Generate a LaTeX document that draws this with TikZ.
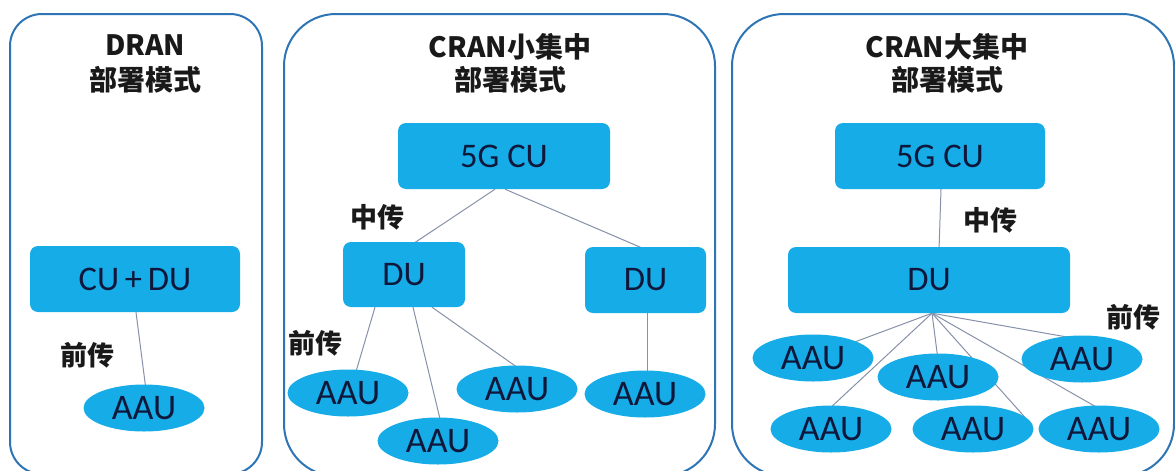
\documentclass[tikz,border=0pt]{standalone}
\usepackage{fontspec}
\usetikzlibrary{shapes.geometric}
\newfontfamily\cjk{Noto Sans CJK SC}
\newfontfamily\boxfont{Carlito}
\definecolor{boxblue}{RGB}{22,172,232}
\definecolor{panelblue}{RGB}{46,117,182}
\definecolor{boxtext}{RGB}{15,24,58}
\definecolor{linkgray}{RGB}{135,145,170}
\definecolor{labeltext}{RGB}{25,25,25}
\pgfdeclarelayer{bg}
\pgfsetlayers{bg,main}
\tikzset{
  panel/.style={draw=panelblue, line width=2pt},
  unitbox/.style={rectangle, rounded corners=8pt, fill=boxblue, draw=none,
    text=boxtext, font=\boxfont\fontsize{34.5}{37}\selectfont, inner sep=0pt},
  aau/.style={ellipse, fill=boxblue, draw=none, minimum width=121pt,
    minimum height=47pt, inner sep=0pt, text=boxtext,
    font=\boxfont\fontsize{36}{39}\selectfont},
  title/.style={text=labeltext, font=\cjk\bfseries\fontsize{28}{30}\selectfont, inner sep=0pt},
  linklabel/.style={text=labeltext, font=\cjk\bfseries\fontsize{27}{29}\selectfont, inner sep=0pt},
  link/.style={draw=linkgray, line width=1pt}
}
\begin{document}
\begin{tikzpicture}[x=1pt,y=-1pt]
\useasboundingbox (0,0) rectangle (1175,471);
\begin{pgfonlayer}{bg}
  \fill[white] (0,0) rectangle (1175,471);
\end{pgfonlayer}
\clip (0,0) rectangle (1175,471);
% panels
\draw[panel, rounded corners=32pt] (10,14) rectangle (262,474);
\draw[panel, rounded corners=52pt] (284,14) rectangle (715,476);
\draw[panel, rounded corners=52pt] (732,14) rectangle (1174,476);

% ---------- Panel 1: DRAN ----------
\node[title] (t1a) at (145,45) {DRAN};
\node[title] (t1b) at (145,80) {部署模式};
\node[unitbox, minimum width=210pt, minimum height=66pt] (cd) at (135,279) {CU\,+\,DU};
\node[aau] (p1a) at (144,408) {AAU};
\node[linklabel] (l1) at (87,355) {前传};

% ---------- Panel 2: CRAN small ----------
\node[title] (t2a) at (510,47) {CRAN小集中};
\node[title] (t2b) at (510,80) {部署模式};
\node[unitbox, minimum width=212pt, minimum height=66pt] (cu2) at (504,156) {5G CU};
\node[unitbox, minimum width=122pt, minimum height=65pt] (du2a) at (404,274.5) {DU};
\node[unitbox, minimum width=121pt, minimum height=66pt] (du2b) at (645.5,280) {DU};
\node[aau] (a1) at (348,393) {AAU};
\node[aau] (a2) at (438,441) {AAU};
\node[aau] (a3) at (517,389) {AAU};
\node[aau] (a4) at (645,394) {AAU};
\node[linklabel] (l2a) at (377,217) {中传};
\node[linklabel] (l2b) at (315,343) {前传};

% ---------- Panel 3: CRAN large ----------
\node[title] (t3a) at (947,47) {CRAN大集中};
\node[title] (t3b) at (947,80) {部署模式};
\node[unitbox, minimum width=210pt, minimum height=66pt] (cu3) at (940,156) {5G CU};
\node[unitbox, minimum width=282pt, minimum height=66pt] (du3) at (929,280) {DU};
\node[aau] (b1) at (813,358) {AAU};
\node[aau] (b2) at (938,377) {AAU};
\node[aau] (b3) at (1082,359) {AAU};
\node[aau] (b4) at (831,429) {AAU};
\node[aau] (b5) at (973,429) {AAU};
\node[aau] (b6) at (1099,429) {AAU};
\node[linklabel] (l3a) at (990,220) {中传};
\node[linklabel] (l3b) at (1133,317) {前传};

% ---------- connectors (behind the shapes) ----------
\begin{pgfonlayer}{bg}
  % panel 1
  \draw[link] ([xshift=1pt]cd.south) -- ([shift={(2,-18)}]p1a.center);
  % panel 2
  \draw[link] ([shift={(-9,0)}]cu2.south) -- ([shift={(2,-26)}]du2a.center);
  \draw[link] ([shift={(1,0)}]cu2.south) -- ([shift={(6,-28)}]du2b.center);
  \draw[link] ([shift={(-29,0)}]du2a.south) -- ([shift={(7,-18)}]a1.center);
  \draw[link] ([shift={(9,0)}]du2a.south) -- ([shift={(3,-18)}]a2.center);
  \draw[link] ([shift={(28,0)}]du2a.south) -- ([shift={(4,-19)}]a3.center);
  \draw[link] ([shift={(1.5,0)}]du2b.south) -- ([shift={(2,-14)}]a4.center);
  % panel 3
  \draw[link] ([shift={(1,0)}]cu3.south) -- ([shift={(10,-30)}]du3.center);
  \draw[link] ([shift={(3,0)}]du3.south) -- ([shift={(39,-15)}]b1.center);
  \draw[link] ([shift={(3,0)}]du3.south) -- ([shift={(-3,-19)}]b4.center);
  \draw[link] ([shift={(3,0)}]du3.south) -- ([shift={(0,-17)}]b2.center);
  \draw[link] ([shift={(3,0)}]du3.south) -- ([shift={(57,-6)}]b5.center);
  \draw[link] ([shift={(3,0)}]du3.south) -- ([shift={(6,-17)}]b6.center);
  \draw[link] ([shift={(3,0)}]du3.south) -- ([shift={(2,-19)}]b3.center);
\end{pgfonlayer}
\end{tikzpicture}
\end{document}
